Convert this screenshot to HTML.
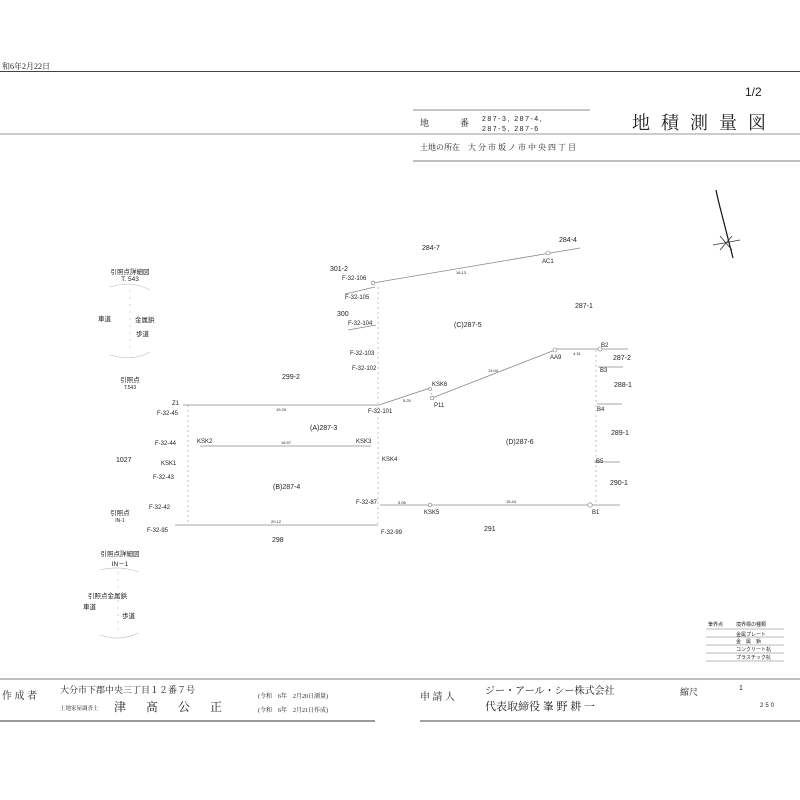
<!DOCTYPE html>
<html><head><meta charset="utf-8"><style>
html,body{margin:0;padding:0;background:#fff;width:800px;height:800px;overflow:hidden}
svg{display:block}
text{font-family:"Liberation Sans","Noto Sans CJK JP",sans-serif;fill:#222}
.s{font-size:6px}
.m{font-size:7px}
.d{font-size:4px;fill:#555}
.j{font-family:"Liberation Serif","Noto Serif CJK SC",serif}
</style></head><body>
<svg width="800" height="800" viewBox="0 0 800 800" xmlns="http://www.w3.org/2000/svg">
<!-- header -->
<text x="2" y="69" font-size="8" class="j">和6年2月22日</text>
<line x1="0" y1="71.5" x2="800" y2="71.5" stroke="#444" stroke-width="1"/>
<text x="745" y="96" font-size="12">1/2</text>
<line x1="413" y1="110" x2="590" y2="110" stroke="#666" stroke-width="0.8"/>
<line x1="0" y1="134" x2="800" y2="134" stroke="#777" stroke-width="0.8"/>
<line x1="413" y1="161" x2="800" y2="161" stroke="#555" stroke-width="0.8"/>
<text x="420" y="126" font-size="9" class="j">地</text>
<text x="460" y="126" font-size="9" class="j">番</text>
<text x="482" y="121" font-size="7" letter-spacing="1.5">287-3, 287-4,</text>
<text x="482" y="131" font-size="7" letter-spacing="1.5">287-5, 287-6</text>
<text x="632" y="129" font-size="18" class="j" letter-spacing="11">地積測量図</text>
<text x="420" y="150" font-size="8" class="j">土地の所在　大 分 市 坂 ノ 市 中 央 四 丁 目</text>

<!-- north arrow -->
<path d="M716 190 Q718 200 722 215 L733 258" stroke="#111" stroke-width="1.2" fill="none"/>
<line x1="713" y1="245" x2="740" y2="240" stroke="#333" stroke-width="0.8"/>
<line x1="720" y1="236" x2="732" y2="250" stroke="#333" stroke-width="0.8"/>
<line x1="732" y1="236" x2="720" y2="250" stroke="#333" stroke-width="0.8"/>

<!-- main lines -->
<g stroke="#888" stroke-width="0.8" fill="none">
<line x1="373" y1="283" x2="580" y2="248"/>
<line x1="345" y1="294" x2="375" y2="287"/>
<line x1="348" y1="330" x2="376" y2="325"/>
<line x1="183" y1="405" x2="379" y2="405"/>
<line x1="379" y1="405" x2="430" y2="388"/>
<line x1="432" y1="398" x2="555" y2="350"/>
<line x1="555" y1="349" x2="628" y2="349"/>
<line x1="598" y1="367" x2="623" y2="367"/>
<line x1="597" y1="404" x2="622" y2="404"/>
<line x1="594" y1="462" x2="620" y2="462"/>
<line x1="200" y1="446" x2="371" y2="446"/>
<line x1="175" y1="525" x2="378" y2="525"/>
<line x1="380" y1="505" x2="620" y2="505"/>
</g>
<g stroke="#aaa" stroke-width="0.7" stroke-dasharray="2,3" fill="none">
<line x1="378" y1="287" x2="378" y2="525"/>
<line x1="188" y1="405" x2="188" y2="525"/>
<line x1="596" y1="350" x2="596" y2="505"/>
<line x1="430" y1="388" x2="432" y2="398"/>
<line x1="288" y1="210" x2="288" y2="210"/>
</g>
<g fill="#fff" stroke="#777" stroke-width="0.6">
<circle cx="548" cy="253" r="2"/><circle cx="555" cy="350" r="2"/><circle cx="600" cy="349" r="2"/>
<circle cx="590" cy="505" r="2.2"/><circle cx="430" cy="505" r="1.8"/><circle cx="373" cy="283" r="1.8"/>
<circle cx="432" cy="398" r="1.8"/><circle cx="430" cy="389" r="1.5"/>
</g>

<!-- parcel labels -->
<g class="m">
<text x="422" y="250">284-7</text><text x="559" y="242">284-4</text>
<text x="330" y="271">301-2</text><text x="337" y="316">300</text>
<text x="454" y="327">(C)287-5</text><text x="575" y="308">287-1</text>
<text x="282" y="379">299-2</text><text x="613" y="360">287-2</text>
<text x="614" y="387">288-1</text><text x="310" y="430">(A)287-3</text>
<text x="506" y="444">(D)287-6</text><text x="611" y="435">289-1</text>
<text x="116" y="462">1027</text><text x="610" y="485">290-1</text>
<text x="273" y="489">(B)287-4</text><text x="484" y="531">291</text>
<text x="272" y="542">298</text>
</g>
<g class="s">
<text x="542" y="263">AC1</text>
<text x="342" y="280">F-32-106</text><text x="345" y="299">F-32-105</text>
<text x="348" y="325">F-32-104</text><text x="350" y="355">F-32-103</text>
<text x="352" y="370">F-32-102</text>
<text x="172" y="405">Z1</text><text x="157" y="415">F-32-45</text>
<text x="368" y="413">F-32-101</text>
<text x="432" y="386">KSK6</text><text x="434" y="407">P11</text>
<text x="550" y="359">AA9</text><text x="601" y="347">B2</text>
<text x="600" y="372">B3</text><text x="597" y="411">B4</text>
<text x="155" y="445">F-32-44</text><text x="197" y="443">KSK2</text>
<text x="356" y="443">KSK3</text><text x="382" y="461">KSK4</text>
<text x="161" y="465">KSK1</text><text x="153" y="479">F-32-43</text>
<text x="596" y="463">B5</text>
<text x="149" y="509">F-32-42</text><text x="356" y="504">F-32-87</text>
<text x="424" y="514">KSK5</text><text x="592" y="514">B1</text>
<text x="147" y="532">F-32-95</text><text x="381" y="534">F-32-99</text>
</g>
<g class="d">
<text x="456" y="274">18.13</text><text x="276" y="411">19.25</text>
<text x="281" y="444">16.57</text><text x="271" y="523">20.12</text>
<text x="398" y="504">5.05</text><text x="506" y="503">15.43</text>
<text x="403" y="402">5.25</text><text x="488" y="372">13.04</text>
<text x="573" y="355">4.31</text>
</g>

<!-- left insets -->
<g font-size="6.5">
<text x="130" y="274" text-anchor="middle">引照点詳細図</text>
<text x="130" y="281" text-anchor="middle">T. 543</text>
<text x="98" y="321">車道</text><text x="135" y="322">金属鋲</text>
<text x="136" y="336">歩道</text>
<text x="130" y="382" text-anchor="middle">引照点</text>
<text x="130" y="389" text-anchor="middle" font-size="5">T.543</text>
<text x="120" y="515" text-anchor="middle">引照点</text>
<text x="120" y="522" text-anchor="middle" font-size="5">IN-1</text>
<text x="120" y="556" text-anchor="middle">引照点詳細図</text>
<text x="120" y="566" text-anchor="middle">IN－1</text>
<text x="88" y="598">引照点金属鋲</text>
<text x="83" y="609">車道</text><text x="122" y="618">歩道</text>
</g>
<g stroke="#bbb" stroke-width="0.6" fill="none">
<path d="M110 287 Q132 280 150 290"/><path d="M110 355 Q132 362 150 352"/>
<line x1="130" y1="290" x2="130" y2="352" stroke-dasharray="2,5"/>
<path d="M100 570 Q120 565 138 572"/><path d="M100 635 Q120 642 138 633"/>
<line x1="118" y1="572" x2="118" y2="635" stroke-dasharray="2,5"/>
</g>

<!-- legend -->
<g font-size="5">
<text x="708" y="626">筆界点</text><text x="736" y="626">境界標の種類</text>
<text x="736" y="636">金属プレート</text><text x="736" y="643">金　属　鋲</text>
<text x="736" y="651">コンクリート杭</text><text x="736" y="659">プラスチック杭</text>
</g>
<g stroke="#777" stroke-width="0.6">
<line x1="706" y1="629" x2="784" y2="629"/><line x1="706" y1="637" x2="784" y2="637"/>
<line x1="706" y1="645" x2="784" y2="645"/><line x1="706" y1="653" x2="784" y2="653"/>
<line x1="706" y1="661" x2="784" y2="661"/>
</g>

<!-- footer -->
<line x1="0" y1="679" x2="800" y2="679" stroke="#555" stroke-width="0.8"/>
<line x1="0" y1="721" x2="375" y2="721" stroke="#333" stroke-width="1"/>
<line x1="420" y1="721" x2="800" y2="721" stroke="#444" stroke-width="1"/>
<text x="2" y="699" font-size="10" class="j">作 成 者</text>
<text x="60" y="693" font-size="9" class="j">大分市下郡中央三丁目１２番７号</text>
<text x="60" y="710" font-size="5.5" class="j">土地家屋調査士</text>
<text x="82" y="711" font-size="12" class="j" letter-spacing="20">　津髙公正</text>
<text x="258" y="698" font-size="6" class="j">(令和　6年　2月20日測量)</text>
<text x="258" y="712" font-size="6" class="j">(令和　6年　2月21日作成)</text>
<text x="420" y="700" font-size="10" class="j">申 請 人</text>
<text x="485" y="694" font-size="10" class="j">ジー・アール・シー株式会社</text>
<text x="485" y="710" font-size="11" class="j">代表取締役 峯 野 耕 一</text>
<text x="680" y="695" font-size="9" class="j">縮尺</text>
<text x="739" y="690" font-size="7">1</text>
<text x="760" y="707" font-size="6" letter-spacing="2">250</text>
</svg>
</body></html>
